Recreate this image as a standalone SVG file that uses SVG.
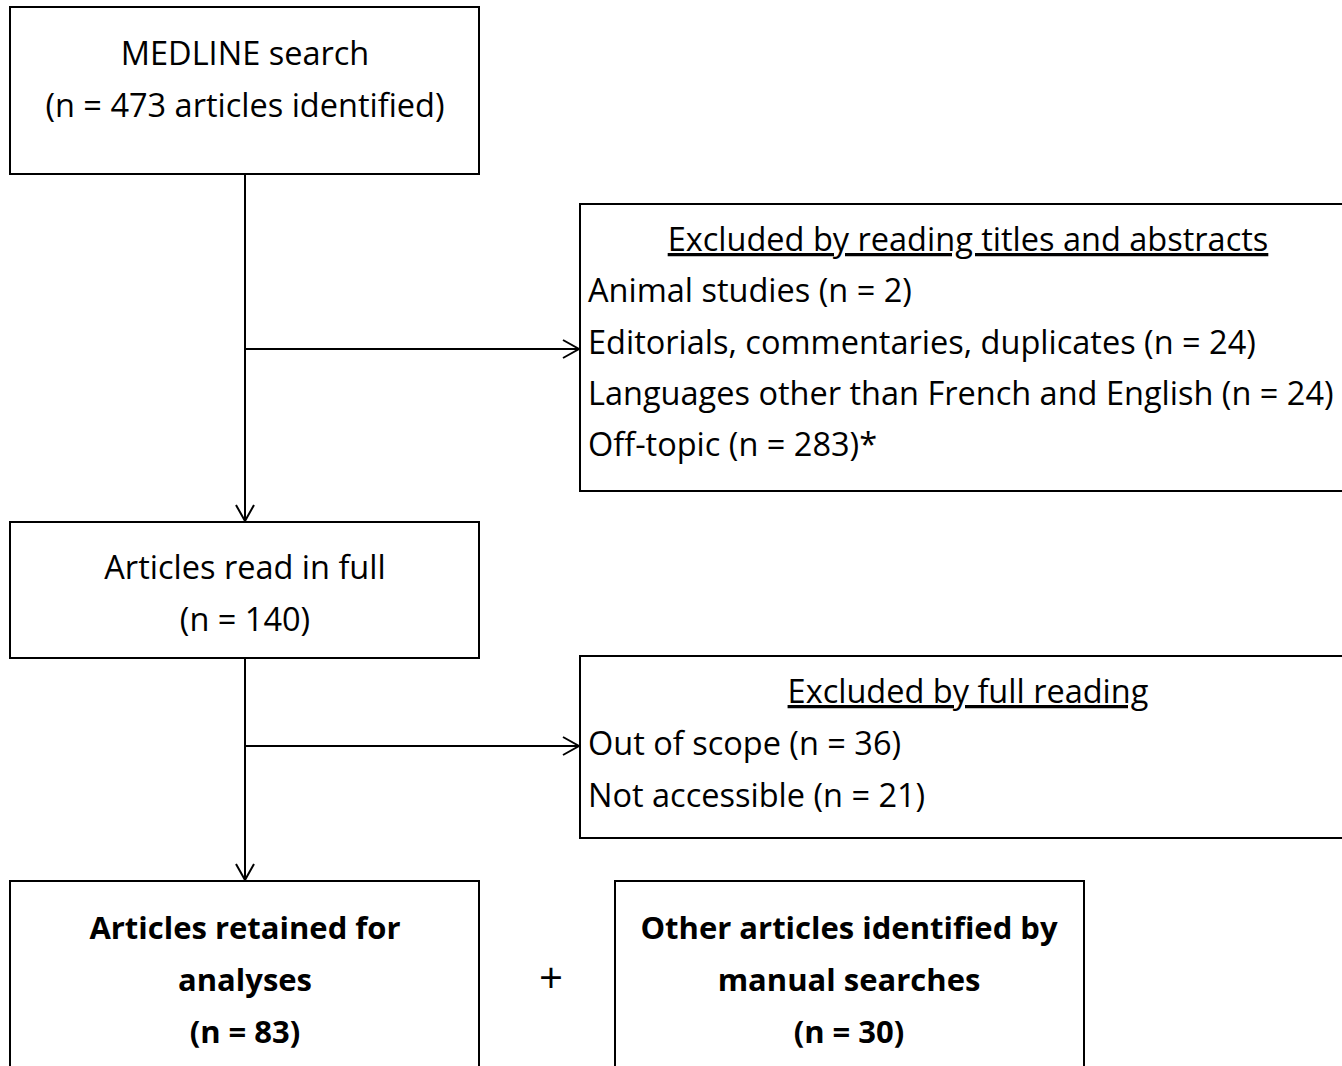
<svg xmlns="http://www.w3.org/2000/svg" width="1342" height="1066" viewBox="0 0 1342 1066">
<style>
.box{fill:#fff;stroke:#000;stroke-width:2}
.t{font-family:"Open Sans","Liberation Sans",sans-serif;font-size:32.5px;fill:#000}
.c{text-anchor:middle}
.b{font-weight:bold;font-size:31px}
.u{text-decoration:underline}
.ln{stroke:#000;stroke-width:2;fill:none}
</style>
<defs>
<marker id="ah" viewBox="0 0 20 20" refX="18" refY="10" markerWidth="20" markerHeight="20" markerUnits="userSpaceOnUse" orient="auto">
<path d="M2,1 L18,10 L2,19" fill="none" stroke="#000" stroke-width="2"/>
</marker>
</defs>
<rect width="1342" height="1066" fill="#fff"/>
<g id="connectors">
<path class="ln" d="M245,174 V521" marker-end="url(#ah)"/>
<path class="ln" d="M245,349 H579" marker-end="url(#ah)"/>
<path class="ln" d="M245,658 V880" marker-end="url(#ah)"/>
<path class="ln" d="M245,746 H579" marker-end="url(#ah)"/>
</g>
<g id="n1"><rect class="box" x="10" y="7" width="469" height="167"/>
<text class="t c" x="245" y="65">MEDLINE search</text>
<text class="t c" x="245" y="117">(n = 473 articles identified)</text></g>
<g id="n2"><rect class="box" x="580" y="204" width="800" height="287"/>
<text class="t c u" x="968" y="251">Excluded by reading titles and abstracts</text>
<text class="t" x="588" y="302">Animal studies (n = 2)</text>
<text class="t" x="588" y="354">Editorials, commentaries, duplicates (n = 24)</text>
<text class="t" x="588" y="405">Languages other than French and English (n = 24)</text>
<text class="t" x="588" y="456">Off-topic (n = 283)*</text></g>
<g id="n3"><rect class="box" x="10" y="522" width="469" height="136"/>
<text class="t c" x="245" y="579">Articles read in full</text>
<text class="t c" x="245" y="631">(n = 140)</text></g>
<g id="n4"><rect class="box" x="580" y="656" width="800" height="182"/>
<text class="t c u" x="968" y="703">Excluded by full reading</text>
<text class="t" x="588" y="755">Out of scope (n = 36)</text>
<text class="t" x="588" y="807">Not accessible (n = 21)</text></g>
<g id="n5"><rect class="box" x="10" y="881" width="469" height="200"/>
<text class="t c b" x="245" y="939">Articles retained for</text>
<text class="t c b" x="245" y="991">analyses</text>
<text class="t c b" x="245" y="1043">(n = 83)</text></g>
<text class="t c" x="551" y="993" style="font-size:42px">+</text>
<g id="n6"><rect class="box" x="615" y="881" width="469" height="200"/>
<text class="t c b" x="849" y="939">Other articles identified by</text>
<text class="t c b" x="849" y="991">manual searches</text>
<text class="t c b" x="849" y="1043">(n = 30)</text></g>
</svg>
